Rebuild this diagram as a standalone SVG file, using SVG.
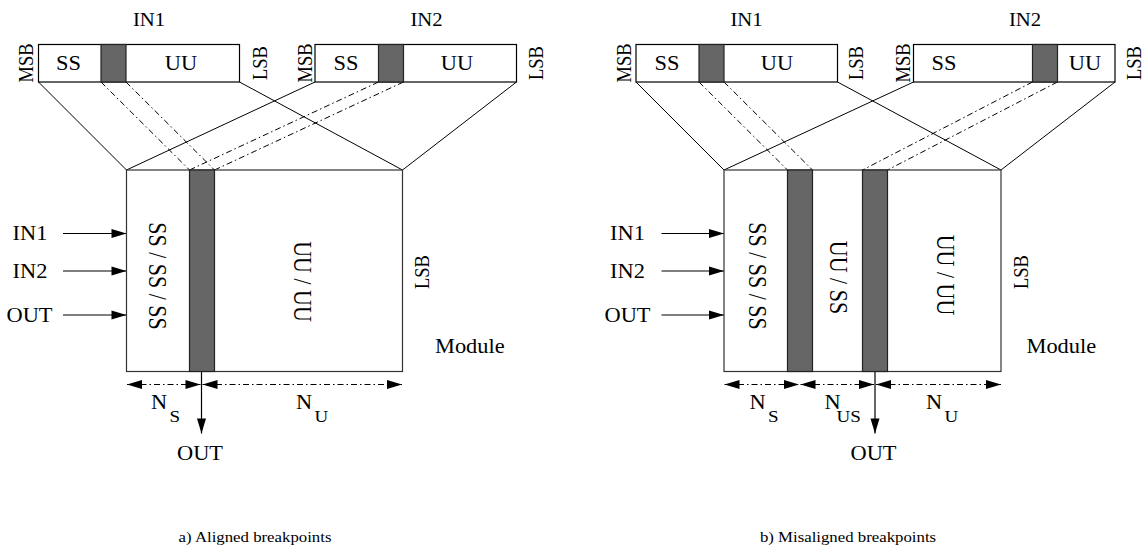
<svg xmlns="http://www.w3.org/2000/svg" width="1143" height="555" viewBox="0 0 1143 555">
  <defs>
    <marker id="arrow" markerUnits="userSpaceOnUse" markerWidth="15" markerHeight="9" refX="15" refY="4.5" orient="auto-start-reverse" overflow="visible">
      <path d="M0,0 L15,4.5 L0,9 Z" fill="#000" stroke="none"/>
    </marker>
  </defs>
  <style>
    text { font-family: "Liberation Serif", "Times New Roman", serif; fill: #000; }
    .c { text-anchor: middle; }
    .s { text-anchor: start; }
    .f15 { font-size: 15px; }
    .f18 { font-size: 18.5px; }
    .f20 { font-size: 20px; }
    .f22 { font-size: 22px; }
    .sub { font-size: 17px; }
    .reg { fill: #fff; stroke: #000; stroke-width: 1.2; }
    .mod { fill: #fff; stroke: #333; stroke-width: 1.2; }
    .bp { fill: #666; stroke: #222; stroke-width: 1.2; }
    .wire { stroke: #000; stroke-width: 1; fill: none; }
    .dd { stroke: #000; stroke-width: 1; fill: none; stroke-dasharray: 6 3 1.5 3; }
    .dim { stroke: #000; stroke-width: 1; fill: none; stroke-dasharray: 6 3 1.5 3; marker-start: url(#arrow); marker-end: url(#arrow); }
    .arr { stroke: #000; stroke-width: 1.2; fill: none; marker-end: url(#arrow); }
  </style>

  <rect width="1143" height="555" fill="#fff"/>

  <!-- ===== connectors (register-to-module mapping lines, port arrows, dimensions) ===== -->
  <g id="connectors">
    <!-- a) aligned -->
    <line class="wire" x1="38.5" y1="82" x2="126.5" y2="170"/>
    <line class="wire" x1="239.5" y1="82" x2="402.5" y2="170"/>
    <line class="wire" x1="315" y1="82" x2="126.5" y2="170"/>
    <line class="wire" x1="516.5" y1="82" x2="402.5" y2="170"/>
    <line class="dd" x1="101" y1="82" x2="189.5" y2="170"/>
    <line class="dd" x1="126" y1="82" x2="214.5" y2="170"/>
    <line class="dd" x1="378.5" y1="82" x2="189.5" y2="170"/>
    <line class="dd" x1="403.5" y1="82" x2="214.5" y2="170"/>

    <line class="arr" x1="63" y1="233.5" x2="126.5" y2="233.5"/>
    <line class="arr" x1="63" y1="271" x2="126.5" y2="271"/>
    <line class="arr" x1="63" y1="315" x2="126.5" y2="315"/>
    <line class="arr" x1="201.5" y1="371.5" x2="201.5" y2="433.5"/>

    <line class="dim" x1="127" y1="384.5" x2="200.5" y2="384.5"/>
    <line class="dim" x1="202.5" y1="384.5" x2="402" y2="384.5"/>

    <!-- b) misaligned -->
    <line class="wire" x1="636" y1="82" x2="724" y2="170"/>
    <line class="wire" x1="837.5" y1="82" x2="1001" y2="170"/>
    <line class="wire" x1="913.5" y1="82" x2="724" y2="170"/>
    <line class="wire" x1="1115" y1="82" x2="1001" y2="170"/>
    <line class="dd" x1="699" y1="82" x2="787.5" y2="170"/>
    <line class="dd" x1="724" y1="82" x2="812.5" y2="170"/>
    <line class="dd" x1="1032.5" y1="82" x2="862.5" y2="170"/>
    <line class="dd" x1="1057.5" y1="82" x2="887.5" y2="170"/>

    <line class="arr" x1="661.5" y1="233.5" x2="724" y2="233.5"/>
    <line class="arr" x1="661.5" y1="271" x2="724" y2="271"/>
    <line class="arr" x1="661.5" y1="315" x2="724" y2="315"/>
    <line class="arr" x1="875" y1="371.5" x2="875" y2="433.5"/>

    <line class="dim" x1="724.5" y1="384.5" x2="799" y2="384.5"/>
    <line class="dim" x1="800.5" y1="384.5" x2="874" y2="384.5"/>
    <line class="dim" x1="876" y1="384.5" x2="1001" y2="384.5"/>
  </g>

  <!-- ===== a) aligned breakpoints ===== -->
  <g id="a-in1">
    <rect class="reg" x="38.5" y="44.5" width="201" height="37.5"/>
    <rect class="bp" x="101" y="44.5" width="25" height="37.5"/>
    <text class="c f18" transform="translate(149 26) scale(1.12 1)">IN1</text>
    <text class="c f20" transform="translate(68.5 70) scale(1.12 1)">SS</text>
    <text class="c f20" transform="translate(181 70) scale(1.12 1)">UU</text>
    <text class="c f18" transform="translate(33 63) scale(1.12 1) rotate(-90)">MSB</text>
    <text class="c f18" transform="translate(267 63) scale(1.12 1) rotate(-90)">LSB</text>
  </g>

  <g id="a-in2">
    <rect class="reg" x="315" y="44.5" width="201.5" height="37.5"/>
    <rect class="bp" x="378.5" y="44.5" width="25" height="37.5"/>
    <text class="c f18" transform="translate(426.5 26) scale(1.12 1)">IN2</text>
    <text class="c f20" transform="translate(346 70) scale(1.12 1)">SS</text>
    <text class="c f20" transform="translate(457 70) scale(1.12 1)">UU</text>
    <text class="c f18" transform="translate(312 63) scale(1.12 1) rotate(-90)">MSB</text>
    <text class="c f18" transform="translate(543 63) scale(1.12 1) rotate(-90)">LSB</text>
  </g>

  <g id="a-module">
    <rect class="mod" x="126.5" y="170" width="276" height="201.5"/>
    <rect class="bp" x="189.5" y="170" width="25" height="201.5"/>
    <!-- field contents, written top-to-bottom -->
    <text class="c f22" transform="translate(148.5 276) scale(1.12 1) rotate(90)">SS / SS / SS</text>
    <text class="c f22" transform="translate(293.5 281.5) scale(1.12 1) rotate(90)">UU / UU</text>
    <text class="c f18" transform="translate(428.5 272) scale(1.12 1) rotate(-90)">LSB</text>
    <text class="s f20" transform="translate(435 352.5) scale(1.12 1)">Module</text>
  </g>

  <g id="a-ports">
    <text class="c f20" transform="translate(30 240) scale(1.12 1)">IN1</text>
    <text class="c f20" transform="translate(30 278) scale(1.12 1)">IN2</text>
    <text class="c f20" transform="translate(29.5 321.5) scale(1.12 1)">OUT</text>
    <text class="c f20" transform="translate(200 460) scale(1.12 1)">OUT</text>
  </g>

  <g id="a-dims">
    <text class="s f20" transform="translate(151 409) scale(1.12 1)">N</text>
    <text class="s sub" transform="translate(169.5 421.5) scale(1.12 1)">S</text>
    <text class="s f20" transform="translate(296 409) scale(1.12 1)">N</text>
    <text class="s sub" transform="translate(314.5 421.5) scale(1.12 1)">U</text>
  </g>

  <g id="a-caption">
    <text class="c f15" transform="translate(255 542) scale(1.12 1)">a) Aligned breakpoints</text>
  </g>

  <!-- ===== b) misaligned breakpoints ===== -->
  <g id="b-in1">
    <rect class="reg" x="636" y="44.5" width="201.5" height="37.5"/>
    <rect class="bp" x="699" y="44.5" width="25" height="37.5"/>
    <text class="c f18" transform="translate(746.5 26) scale(1.12 1)">IN1</text>
    <text class="c f20" transform="translate(667 70) scale(1.12 1)">SS</text>
    <text class="c f20" transform="translate(777 70) scale(1.12 1)">UU</text>
    <text class="c f18" transform="translate(630.5 63) scale(1.12 1) rotate(-90)">MSB</text>
    <text class="c f18" transform="translate(863 63) scale(1.12 1) rotate(-90)">LSB</text>
  </g>

  <g id="b-in2">
    <rect class="reg" x="913.5" y="44.5" width="201.5" height="37.5"/>
    <rect class="bp" x="1032.5" y="44.5" width="25" height="37.5"/>
    <text class="c f18" transform="translate(1025 26) scale(1.12 1)">IN2</text>
    <text class="c f20" transform="translate(944 70) scale(1.12 1)">SS</text>
    <text class="c f20" transform="translate(1085 70) scale(1.12 1)">UU</text>
    <text class="c f18" transform="translate(909.5 63) scale(1.12 1) rotate(-90)">MSB</text>
    <text class="c f18" transform="translate(1141 63) scale(1.12 1) rotate(-90)">LSB</text>
  </g>

  <g id="b-module">
    <rect class="mod" x="724" y="170" width="277" height="201.5"/>
    <rect class="bp" x="787.5" y="170" width="25" height="201.5"/>
    <rect class="bp" x="862.5" y="170" width="25" height="201.5"/>
    <!-- field contents, written top-to-bottom -->
    <text class="c f22" transform="translate(748.5 276) scale(1.12 1) rotate(90)">SS / SS / SS</text>
    <text class="c f22" transform="translate(830 277.5) scale(1.12 1) rotate(90)">UU / SS</text>
    <text class="c f22" transform="translate(937 275) scale(1.12 1) rotate(90)">UU / UU</text>
    <text class="c f18" transform="translate(1028 272) scale(1.12 1) rotate(-90)">LSB</text>
    <text class="s f20" transform="translate(1026.5 352.5) scale(1.12 1)">Module</text>
  </g>

  <g id="b-ports">
    <text class="c f20" transform="translate(627.5 240) scale(1.12 1)">IN1</text>
    <text class="c f20" transform="translate(627.5 278) scale(1.12 1)">IN2</text>
    <text class="c f20" transform="translate(627.5 321.5) scale(1.12 1)">OUT</text>
    <text class="c f20" transform="translate(873.5 460) scale(1.12 1)">OUT</text>
  </g>

  <g id="b-dims">
    <text class="s f20" transform="translate(749.5 409) scale(1.12 1)">N</text>
    <text class="s sub" transform="translate(768 421.5) scale(1.12 1)">S</text>
    <text class="s f20" transform="translate(824.5 409) scale(1.12 1)">N</text>
    <text class="s sub" transform="translate(836.5 421.5) scale(1.12 1)">US</text>
    <text class="s f20" transform="translate(926 409) scale(1.12 1)">N</text>
    <text class="s sub" transform="translate(944.5 421.5) scale(1.12 1)">U</text>
  </g>

  <g id="b-caption">
    <text class="c f15" transform="translate(848 542) scale(1.12 1)">b) Misaligned breakpoints</text>
  </g>
</svg>
